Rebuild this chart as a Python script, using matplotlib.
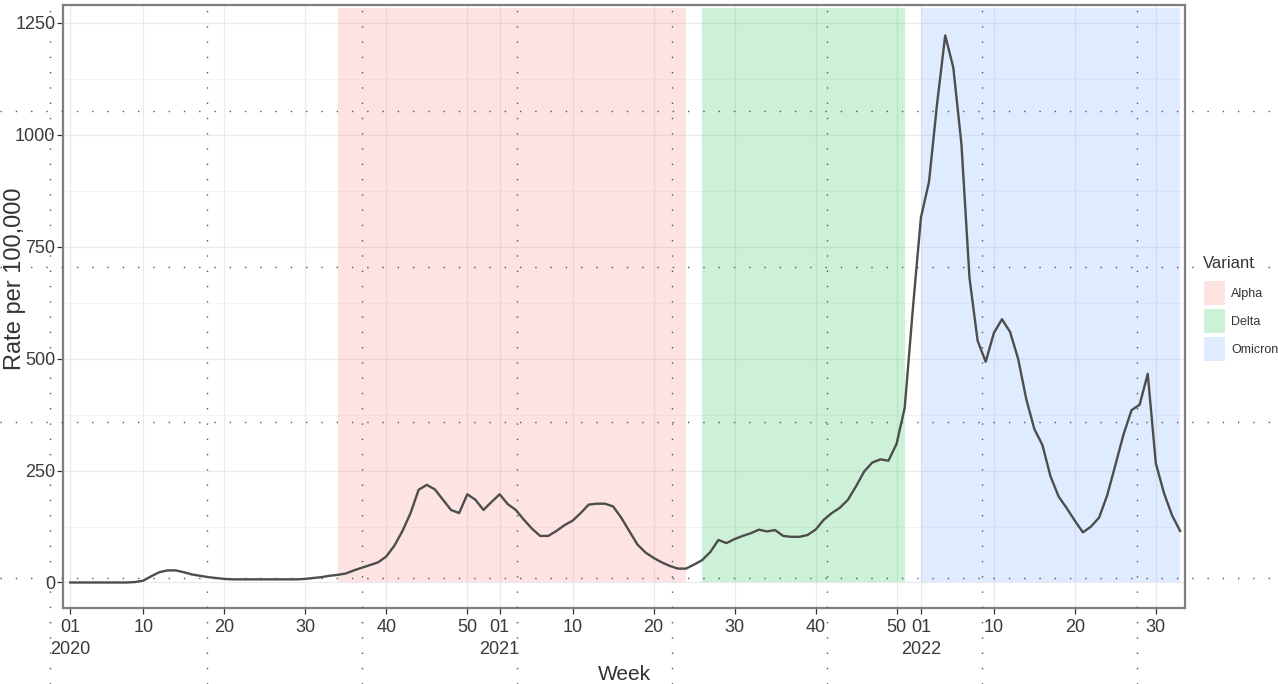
"""Weekly rate per 100,000 with shaded variant periods (ggplot theme_bw look)."""
import matplotlib
matplotlib.use("Agg")
import matplotlib.pyplot as plt
import matplotlib.transforms as mtransforms
from matplotlib.patches import Rectangle
from matplotlib.lines import Line2D

plt.rcParams["font.family"] = ["Liberation Sans", "DejaVu Sans"]

# ---- data -----------------------------------------------------------------
YEARS = [2020, 2021, 2022]
WEEKS_IN_YEAR = [53, 52, 33]          # ISO weeks shown per year

rate_2020 = [0, 0, 0, 0, 0, 0, 0, 0, 1, 4, 14, 23, 27, 27, 23, 18, 15, 12,
             10, 8, 7, 7, 7, 7, 7, 7, 7, 7, 7, 8, 10, 12, 15, 17, 20, 27, 33,
             39, 45, 58, 82, 115, 155, 207, 218, 208, 185, 162, 155, 197, 185,
             162, 180]
rate_2021 = [197, 175, 162, 140, 120, 104, 104, 115, 128, 138, 155, 174, 176,
             176, 170, 145, 115, 85, 67, 55, 45, 37, 31, 31, 40, 50, 68, 95,
             88, 97, 104, 110, 118, 114, 117, 104, 102, 102, 106, 118, 140,
             155, 167, 185, 215, 248, 268, 275, 272, 310, 390, 610]
rate_2022 = [815, 895, 1070, 1222, 1150, 980, 680, 540, 493, 557, 588, 560,
             500, 410, 343, 307, 237, 192, 166, 138, 112, 125, 145, 195, 262,
             330, 385, 397, 466, 266, 200, 150, 115]

VARIANTS = ["Alpha", "Delta", "Omicron"]
VARIANT_START = [(2020, 34), (2021, 26), (2022, 1)]
VARIANT_END = [(2021, 24), (2021, 51), (2022, 33)]
VARIANT_COLORS = ["#F8766D", "#00BA38", "#619CFF"]

TICK_WEEKS = [1, 10, 20, 30, 40, 50]
Y_TICKS = [0, 250, 500, 750, 1000, 1250]

# ---- helpers --------------------------------------------------------------
offsets = {}
pos = 0
for yr, n in zip(YEARS, WEEKS_IN_YEAR):
    offsets[yr] = pos
    pos += n


def week_pos(year, week):
    return offsets[year] + week - 1


rate = rate_2020 + rate_2021 + rate_2022
x = list(range(len(rate)))

W, H, DPI = 1278, 684, 100
INK = "#333333"
fig = plt.figure(figsize=(W / DPI, H / DPI), dpi=DPI)
fig.patch.set_facecolor("white")
ax_top, ax_bot = 5, 608
ax = fig.add_axes([63 / W, 1 - ax_bot / H, (1185 - 63) / W, (ax_bot - ax_top) / H])

# variant shading (semi transparent like alpha = 0.2, grid shows through)
rect_top = max(rate) * 1.05
for name, s, e, c in zip(VARIANTS, VARIANT_START, VARIANT_END, VARIANT_COLORS):
    x0, x1 = week_pos(*s), week_pos(*e)
    ax.add_patch(Rectangle((x0, 0), x1 - x0, rect_top, facecolor=c,
                           alpha=0.2, edgecolor="none", zorder=1))

ax.plot(x, rate, color="#4d4d4d", linewidth=1.7, zorder=3,
        solid_joinstyle="round")

# axes, ticks, grid
ax.set_xlim(-0.9, 137.6)
ax.set_ylim(-57, 1290)

xt, xl, year_pos = [], [], []
for yr, n in zip(YEARS, WEEKS_IN_YEAR):
    for wk in TICK_WEEKS:
        if wk <= n:
            xt.append(week_pos(yr, wk))
            xl.append("%02d" % wk)
    year_pos.append(week_pos(yr, 1))
ax.set_xticks(xt)
ax.set_xticklabels(xl)
ax.set_yticks(Y_TICKS)
ax.set_yticks([125, 375, 625, 875, 1125], minor=True)

ax.tick_params(axis="both", which="major", length=4, width=0.9,
               color=INK, labelsize=13, labelcolor="#3a3a3a")
ax.tick_params(axis="x", pad=4)
ax.tick_params(axis="y", pad=1.5)
ax.tick_params(which="minor", length=0)

# year under the first week of each year
trans = mtransforms.blended_transform_factory(ax.transData, fig.transFigure)
for yr, xp in zip(YEARS, year_pos):
    ax.text(xp, 1 - 650 / H, str(yr), transform=trans, ha="center",
            va="center", fontsize=13, color="#3a3a3a", clip_on=False)

ax.grid(which="major", color="#ebebeb", linewidth=0.9, zorder=0)
ax.grid(which="minor", axis="y", color="#f3f3f3", linewidth=0.6, zorder=0)
ax.set_axisbelow(True)
for sp in ax.spines.values():
    sp.set_color("#7f7f7f")
    sp.set_linewidth(1.6)

ax.set_xlabel("Week", fontsize=15, color=INK, va="center")
ax.xaxis.set_label_coords(0.5, -(675 - ax_bot) / (ax_bot - ax_top))
ax.set_ylabel("Rate per 100,000", fontsize=17, color=INK, va="center")
ax.yaxis.set_label_coords(-(63 - 15) / (1185 - 63),
                          (ax_bot - 279) / (ax_bot - ax_top))

# legend, drawn by hand to the right of the panel
fig.text(1203 / W, 1 - 263 / H, "Variant", fontsize=12, color=INK,
         ha="left", va="center")
for i, (name, c) in enumerate(zip(VARIANTS, VARIANT_COLORS)):
    cy = 293 + i * 28
    fig.patches.append(Rectangle((1204 / W, 1 - (cy + 12) / H), 21 / W,
                                 24 / H, transform=fig.transFigure,
                                 facecolor=c, alpha=0.2, edgecolor="none"))
    fig.text(1231 / W, 1 - (cy + 1) / H, name, fontsize=9, color=INK,
             ha="left", va="center")

# faint dotted page grid that sits over the whole image
for yy in (111, 267, 422, 578):
    fig.lines.append(Line2D([0, 1], [1 - yy / H] * 2, transform=fig.transFigure,
                            color="#555555", linewidth=1.0,
                            linestyle=(0, (1, 10)), zorder=10))
for xx in (50, 207, 362, 517, 672, 827, 982, 1137):
    fig.lines.append(Line2D([xx / W] * 2, [0, 1], transform=fig.transFigure,
                            color="#555555", linewidth=1.0,
                            linestyle=(0, (1, 10)), zorder=10))

fig.savefig("out.png", dpi=DPI, facecolor="white")
plt.close(fig)
